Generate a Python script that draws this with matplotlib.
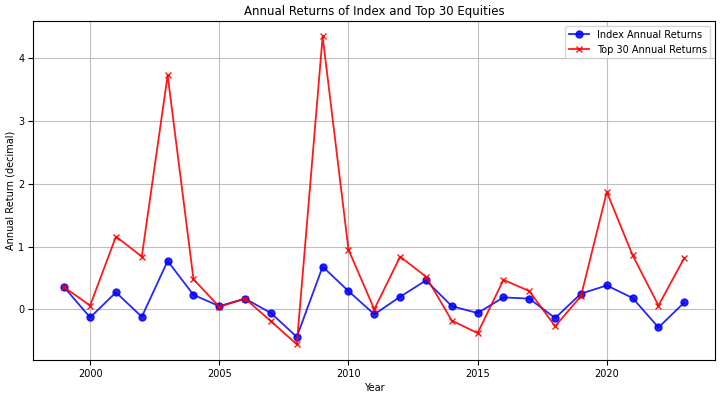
import matplotlib
matplotlib.use("Agg")
import matplotlib.pyplot as plt

years = list(range(1999, 2024))
index_returns = [0.35, -0.13, 0.27, -0.12, 0.77, 0.23, 0.05, 0.17, -0.06, -0.44,
                 0.68, 0.29, -0.08, 0.20, 0.46, 0.05, -0.06, 0.19, 0.17, -0.14,
                 0.25, 0.38, 0.18, -0.29, 0.11]
top30_returns = [0.35, 0.06, 1.16, 0.84, 3.73, 0.48, 0.04, 0.17, -0.19, -0.56,
                 4.35, 0.95, 0.00, 0.84, 0.52, -0.18, -0.38, 0.47, 0.29, -0.27,
                 0.21, 1.87, 0.86, 0.06, 0.82]

fig, ax = plt.subplots(figsize=(7.24, 3.95), dpi=100)
ax.plot(years, index_returns, marker='o', color='blue', alpha=0.85,
        markersize=5, linewidth=1.3, label='Index Annual Returns')
ax.plot(years, top30_returns, marker='x', color='red', alpha=0.9,
        markersize=5, linewidth=1.3, label='Top 30 Annual Returns')
ax.set_title('Annual Returns of Index and Top 30 Equities', fontsize=8.5, pad=4)
ax.set_xlabel('Year', fontsize=7, labelpad=3)
ax.set_ylabel('Annual Return (decimal)', fontsize=7, labelpad=2)
ax.tick_params(labelsize=7, pad=3)
ax.grid(True, color='#b0b0b0', alpha=0.8, linewidth=0.8)
ax.legend(fontsize=7, loc='upper right')
fig.subplots_adjust(left=0.046, right=0.988, top=0.947, bottom=0.089)
fig.savefig('out.png', dpi=100)
